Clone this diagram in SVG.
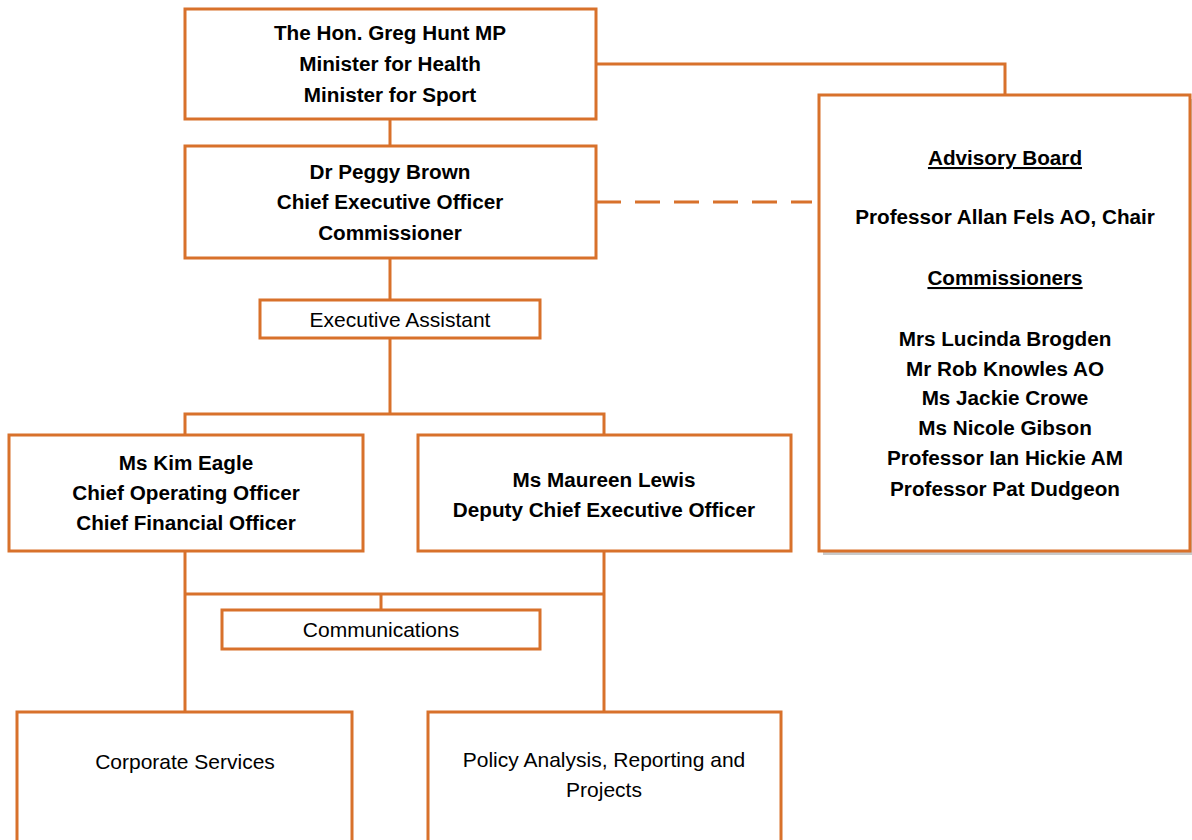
<svg xmlns="http://www.w3.org/2000/svg" width="1192" height="840" viewBox="0 0 1192 840">
<style>
.box{fill:#fff;stroke:#D8712B;stroke-width:3}
.ln{fill:none;stroke:#D8712B;stroke-width:3}
.dash{fill:none;stroke:#D8712B;stroke-width:3;stroke-dasharray:25 14}
.b{font-family:"Liberation Sans",Arial,sans-serif;font-weight:bold;font-size:20.7px;fill:#000;text-anchor:middle}
.r{font-family:"Liberation Sans",Arial,sans-serif;font-size:21px;fill:#000;text-anchor:middle}
.u{text-decoration:underline}
</style>
<rect width="1192" height="840" fill="#fff"/>
<g id="connectors">
<polyline class="ln" points="596,64 1005,64 1005,95"/>
<line class="ln" x1="390" y1="119" x2="390" y2="146"/>
<line class="dash" x1="596" y1="202" x2="812" y2="202"/>
<line class="ln" x1="390" y1="258" x2="390" y2="300"/>
<line class="ln" x1="390" y1="338" x2="390" y2="414"/>
<polyline class="ln" points="185,435 185,414 604,414 604,435"/>
<line class="ln" x1="185" y1="551" x2="185" y2="712"/>
<line class="ln" x1="604" y1="551" x2="604" y2="712"/>
<line class="ln" x1="185" y1="594" x2="604" y2="594"/>
<line class="ln" x1="381" y1="594" x2="381" y2="610"/>
</g>
<g id="minister">
<rect class="box" x="185" y="9" width="411" height="110"/>
<text class="b" x="390" y="40">The Hon. Greg Hunt MP</text>
<text class="b" x="390" y="71">Minister for Health</text>
<text class="b" x="390" y="102">Minister for Sport</text>
</g>
<g id="ceo">
<rect class="box" x="185" y="146" width="411" height="112"/>
<text class="b" x="390" y="179">Dr Peggy Brown</text>
<text class="b" x="390" y="209">Chief Executive Officer</text>
<text class="b" x="390" y="240">Commissioner</text>
</g>
<g id="advisory-board">
<rect x="823" y="99" width="371" height="456" fill="#c9c9c9"/>
<rect class="box" x="819" y="95" width="371" height="456"/>
<text class="b u" x="1005" y="165">Advisory Board</text>
<text class="b" x="1005" y="224">Professor Allan Fels AO, Chair</text>
<text class="b u" x="1005" y="285">Commissioners</text>
<text class="b" x="1005" y="346">Mrs Lucinda Brogden</text>
<text class="b" x="1005" y="376">Mr Rob Knowles AO</text>
<text class="b" x="1005" y="405">Ms Jackie Crowe</text>
<text class="b" x="1005" y="435">Ms Nicole Gibson</text>
<text class="b" x="1005" y="465">Professor Ian Hickie AM</text>
<text class="b" x="1005" y="496">Professor Pat Dudgeon</text>
</g>
<g id="executive-assistant">
<rect class="box" x="260" y="300" width="280" height="38"/>
<text class="r" x="400" y="327">Executive Assistant</text>
</g>
<g id="coo">
<rect class="box" x="9" y="435" width="354" height="116"/>
<text class="b" x="186" y="470">Ms Kim Eagle</text>
<text class="b" x="186" y="500">Chief Operating Officer</text>
<text class="b" x="186" y="530">Chief Financial Officer</text>
</g>
<g id="deputy-ceo">
<rect class="box" x="418" y="435" width="373" height="116"/>
<text class="b" x="604" y="487">Ms Maureen Lewis</text>
<text class="b" x="604" y="517">Deputy Chief Executive Officer</text>
</g>
<g id="communications">
<rect class="box" x="222" y="610" width="318" height="39"/>
<text class="r" x="381" y="637">Communications</text>
</g>
<g id="corporate-services">
<rect class="box" x="17" y="712" width="335" height="140"/>
<text class="r" x="185" y="769">Corporate Services</text>
</g>
<g id="policy">
<rect class="box" x="428" y="712" width="353" height="140"/>
<text class="r" x="604" y="767">Policy Analysis, Reporting and</text>
<text class="r" x="604" y="797">Projects</text>
</g>
</svg>
